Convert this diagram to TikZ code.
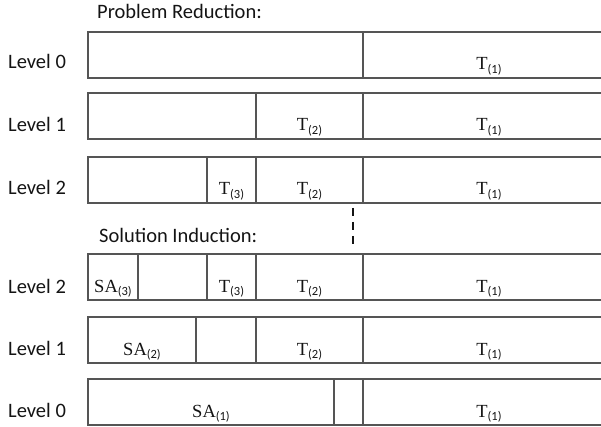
\documentclass[tikz,border=0pt]{standalone}
\usepackage{fontspec}
\setmainfont{Liberation Serif}
\setsansfont{Carlito}
\usetikzlibrary{positioning}
\definecolor{linegray}{HTML}{555555}
\definecolor{inkgray}{HTML}{141414}
\newcommand{\idx}[1]{\raisebox{-3.5pt}{\sffamily\fontsize{12.5}{12.5}\selectfont(#1)}}
\begin{document}
\begin{tikzpicture}[x=1pt,y=-1pt,
  cell/.style={draw=linegray, line width=1.8pt, inner sep=0pt, outer sep=0pt,
    minimum height=46pt, text height=38pt, text depth=8pt, anchor=north west,
    text=inkgray, font=\fontsize{18.5}{20}\selectfont},
  lvl/.style={anchor=base west, inner sep=0pt, text=inkgray, font=\sffamily\fontsize{20.5}{22}\selectfont},
  cut/.style={draw=inkgray, line width=2.5pt, dash pattern=on 8pt off 6pt}]
  \path[use as bounding box, clip] (0,0) rectangle (601,427);

  % problem reduction
  \node[lvl] (prtitle) at (97,19) {Problem Reduction:};
  \node[lvl] (prl0) at (8,69) {Level 0};
  \node[cell, minimum width=275pt] (pa1) at (88,32) {};
  \node[cell, minimum width=252pt, right=0pt of pa1] (pa2) {T\idx{1}};

  \node[lvl] (prl1) at (8,132) {Level 1};
  \node[cell, minimum width=168pt] (pb1) at (88,93) {};
  \node[cell, minimum width=107pt, right=0pt of pb1] (pb2) {T\idx{2}};
  \node[cell, minimum width=252pt, right=0pt of pb2] (pb3) {T\idx{1}};

  \node[lvl] (prl2) at (8,195) {Level 2};
  \node[cell, minimum width=119pt] (pc1) at (88,157) {};
  \node[cell, minimum width=49pt, right=0pt of pc1] (pc2) {T\idx{3}};
  \node[cell, minimum width=107pt, right=0pt of pc2] (pc3) {T\idx{2}};
  \node[cell, minimum width=252pt, right=0pt of pc3] (pc4) {T\idx{1}};

  % break between the two halves
  \coordinate (cuttop) at (353,208);
  \coordinate (cutbot) at (353,248);
  \draw[cut] (cuttop) -- (cutbot);

  % solution induction
  \node[lvl] (sititle) at (99,243) {Solution Induction:};
  \node[lvl] (sil2) at (8,293) {Level 2};
  \node[cell, minimum width=50pt] (sa1) at (88,254) {SA\idx{3}};
  \node[cell, minimum width=69pt, right=0pt of sa1] (sa2) {};
  \node[cell, minimum width=49pt, right=0pt of sa2] (sa3) {T\idx{3}};
  \node[cell, minimum width=107pt, right=0pt of sa3] (sa4) {T\idx{2}};
  \node[cell, minimum width=252pt, right=0pt of sa4] (sa5) {T\idx{1}};

  \node[lvl] (sil1) at (8,355) {Level 1};
  \node[cell, minimum width=108pt] (sb1) at (88,317) {SA\idx{2}};
  \node[cell, minimum width=60pt, right=0pt of sb1] (sb2) {};
  \node[cell, minimum width=107pt, right=0pt of sb2] (sb3) {T\idx{2}};
  \node[cell, minimum width=252pt, right=0pt of sb3] (sb4) {T\idx{1}};

  \node[lvl] (sil0) at (8,417) {Level 0};
  \node[cell, minimum width=246pt] (sc1) at (88,379) {SA\idx{1}};
  \node[cell, minimum width=29pt, right=0pt of sc1] (sc2) {};
  \node[cell, minimum width=252pt, right=0pt of sc2] (sc3) {T\idx{1}};
\end{tikzpicture}
\end{document}
